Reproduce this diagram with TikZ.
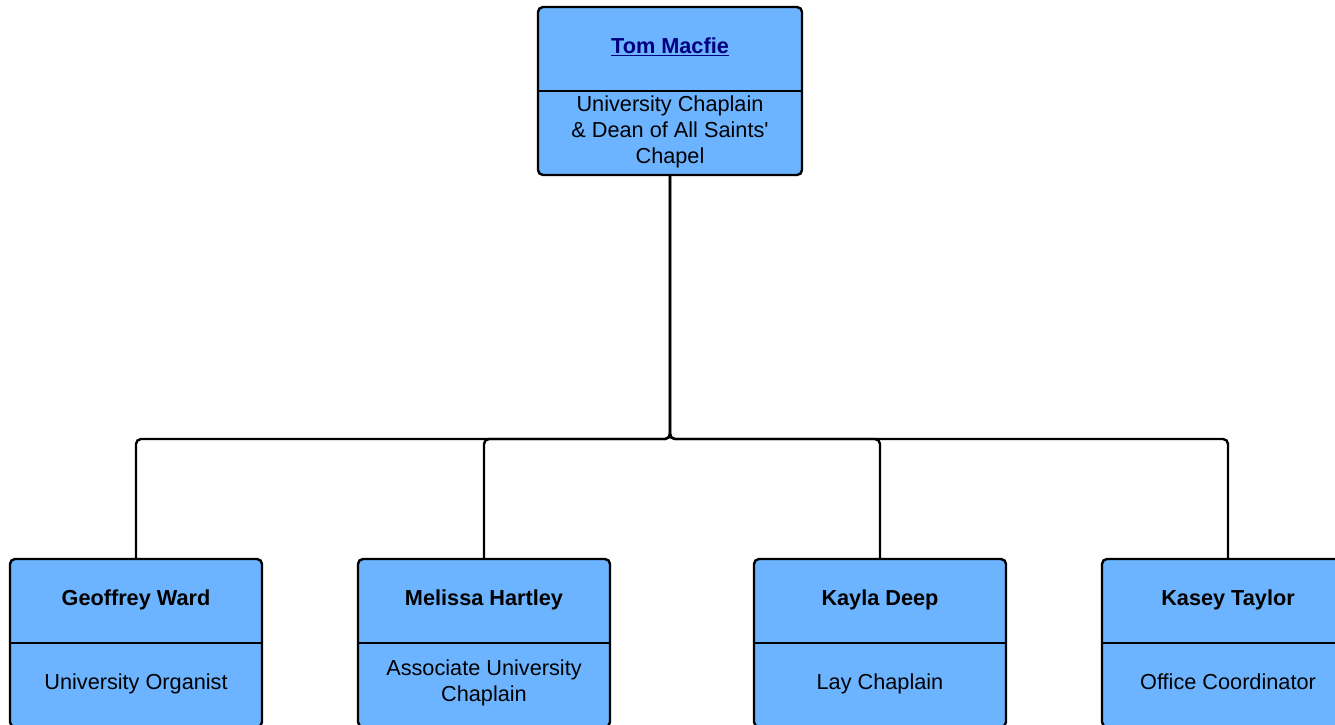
\documentclass[tikz,border=0pt]{standalone}
\usepackage{fontspec}
\setmainfont{Liberation Sans}
\definecolor{boxblue}{RGB}{108,180,255}
\definecolor{linknavy}{RGB}{0,0,128}
\begin{document}
\begin{tikzpicture}[x=1pt,y=-1pt,
  card/.style={draw=black, line width=2.4pt, fill=boxblue, rounded corners=5pt, minimum width=252pt, minimum height=168pt, inner sep=0pt},
  divider/.style={draw=black, line width=2.2pt},
  conn/.style={draw=black, line width=2.4pt, rounded corners=5pt},
  txt/.style={font=\fontsize{21.7}{26}\selectfont, align=center, inner sep=0pt, anchor=base},
  nm/.style={txt, font=\fontsize{21.7}{26}\selectfont\bfseries}]
\useasboundingbox (0,0) rectangle (1335,724);
\clip (0,0) rectangle (1335,724);
\fill[white] (0,0) rectangle (1335,724);
% top card
\node[card, minimum width=264pt] (tom) at (670,91) {};
\draw[divider] (tom.west |- 0,91) -- (tom.east |- 0,91);
\node[nm, text=linknavy] (tomname) at (670,53.8) {\underline{Tom Macfie}};
\node[txt] (tomrole) at (670,163.8) {University Chaplain\\\& Dean of All Saints\textquotesingle\\Chapel};
% bottom cards
\node[card] (geo) at (136,643) {};
\node[card] (mel) at (484,643) {};
\node[card] (kay) at (880,643) {};
\node[card] (kas) at (1228,643) {};
\foreach \n in {geo,mel,kay,kas}{\draw[divider] (\n.west |- 0,643) -- (\n.east |- 0,643);}
\node[nm] (geoname) at (136,605.8) {Geoffrey Ward};
\node[txt] (georole) at (136,689.8) {University Organist};
\node[nm] (melname) at (484,605.8) {Melissa Hartley};
\node[txt] (melrole) at (484,701.8) {Associate University\\Chaplain};
\node[nm] (kayname) at (880,605.8) {Kayla Deep};
\node[txt] (kayrole) at (880,689.8) {Lay Chaplain};
\node[nm] (kasname) at (1228,605.8) {Kasey Taylor};
\node[txt] (kasrole) at (1228,689.8) {Office Coordinator};
% connectors
\coordinate (j) at (670,439);
\draw[conn] (tom.south) -- (j) -| (geo.north);
\draw[conn] (tom.south) -- (j) -| (mel.north);
\draw[conn] (tom.south) -- (j) -| (kay.north);
\draw[conn] (tom.south) -- (j) -| (kas.north);
\end{tikzpicture}
\end{document}
